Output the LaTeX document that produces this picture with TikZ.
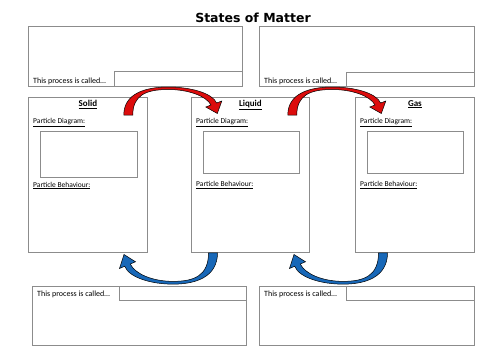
\documentclass[tikz,border=0pt]{standalone}
\usepackage{fontspec}
\setmainfont{Carlito}
\newfontfamily\titlefont{DejaVu Sans}
\usetikzlibrary{positioning}
\definecolor{meltred}{RGB}{220,12,12}
\definecolor{freezeblue}{RGB}{24,104,184}
\definecolor{rulegray}{RGB}{140,140,140}
\tikzset{
  panel/.style={
    draw = rulegray,
    line width = 0.8pt,
    inner sep = 0pt,
    anchor = north west
  },
  field/.style={
    draw = rulegray,
    line width = 0.8pt,
    inner sep = 0pt
  },
  title/.style={
    font = \titlefont\bfseries\fontsize{12.5}{15}\selectfont,
    inner sep = 0pt
  },
  heading/.style={
    font = \bfseries\fontsize{9}{11}\selectfont,
    inner sep = 1pt
  },
  caption/.style={
    font = \fontsize{7.5}{9}\selectfont,
    inner sep = 0pt
  },
  called/.style={
    font = \fontsize{8}{10}\selectfont,
    inner sep = 0pt,
    anchor = base west
  }
}
% curved block arrow, tail centred on the origin
\newcommand{\stateArrow}[1]{%
  \filldraw[fill=#1, draw=black, line width=0.5pt]
    (-4.5,0) .. controls (-4.5,-22) and (18,-28) .. (40,-28)
    .. controls (62,-28) and (84,-22) .. (88.3,-12)
    -- (93.5,-14) -- (89,-1.5) -- (77.5,-8) -- (82.7,-10)
    .. controls (78,-19) and (60,-25.5) .. (40,-25.5)
    .. controls (18,-25.5) and (4.5,-20) .. (4.5,0) -- cycle;}
\begin{document}
\begin{tikzpicture}[x=1pt,y=-1pt]
        \useasboundingbox (0,0) rectangle (500,354);
        \node[title] (title) at (253,18) {States of Matter};
        % top process boxes
        \node[panel, minimum width=214, minimum height=60] (procTL) at (28,26) {};
        \node[field, anchor=south east, minimum width=128, minimum height=15] (ansTL) at (procTL.south east) {};
        \node[called] (callTL) at ([shift={(5,-3)}]procTL.south west) {This process is called…};
        \node[panel, minimum width=215, minimum height=60] (procTR) at (259,26) {};
        \node[field, anchor=south east, minimum width=128, minimum height=14] (ansTR) at (procTR.south east) {};
        \node[called] (callTR) at ([shift={(5,-3)}]procTR.south west) {This process is called…};
        % state boxes
        \node[panel, minimum width=119, minimum height=155] (solid) at (28,97) {};
        \node[heading, below=2pt of solid.north] (solidName) {\underline{Solid}};
        \node[caption, anchor=west] (solidPD) at ([shift={(5,26)}]solid.north west) {\underline{Particle Diagram:}};
        \node[field, anchor=north west, minimum width=97, minimum height=46] (solidDiag) at ([shift={(12,33.5)}]solid.north west) {};
        \node[caption, anchor=west] (solidPB) at ([shift={(5,88.5)}]solid.north west) {\underline{Particle Behaviour:}};
        \node[panel, minimum width=118, minimum height=155] (liquid) at (191,97) {};
        \node[heading, below=2pt of liquid.north] (liquidName) {\underline{Liquid}};
        \node[caption, anchor=west] (liquidPD) at ([shift={(5,26)}]liquid.north west) {\underline{Particle Diagram:}};
        \node[field, anchor=north west, minimum width=96, minimum height=42] (liquidDiag) at ([shift={(12,34)}]liquid.north west) {};
        \node[caption, anchor=west] (liquidPB) at ([shift={(5,88)}]liquid.north west) {\underline{Particle Behaviour:}};
        \node[panel, minimum width=119, minimum height=155] (gas) at (355,97) {};
        \node[heading, below=2pt of gas.north] (gasName) {\underline{Gas}};
        \node[caption, anchor=west] (gasPD) at ([shift={(5,26)}]gas.north west) {\underline{Particle Diagram:}};
        \node[field, anchor=north west, minimum width=96, minimum height=42] (gasDiag) at ([shift={(12,34)}]gas.north west) {};
        \node[caption, anchor=west] (gasPB) at ([shift={(5,88)}]gas.north west) {\underline{Particle Behaviour:}};
        % bottom process boxes
        \node[panel, minimum width=214, minimum height=59] (procBL) at (32,286) {};
        \node[field, anchor=north east, minimum width=127, minimum height=14] (ansBL) at (procBL.north east) {};
        \node[called] (callBL) at ([shift={(5,10.5)}]procBL.north west) {This process is called…};
        \node[panel, minimum width=215, minimum height=59] (procBR) at (259,286) {};
        \node[field, anchor=north east, minimum width=128, minimum height=14] (ansBR) at (procBR.north east) {};
        \node[called] (callBR) at ([shift={(5,10.5)}]procBR.north west) {This process is called…};
        % arrows between the states
        \coordinate (meltTail) at ([shift={(-19.5,18)}]solid.north east);
        \coordinate (boilTail) at ([shift={(-17.5,18)}]liquid.north east);
        \coordinate (freezeTail) at ([shift={(22,0)}]liquid.south west);
        \coordinate (condenseTail) at ([shift={(28,0)}]gas.south west);
        \begin{scope}[shift={(meltTail)}] \stateArrow{meltred} \end{scope}
        \begin{scope}[shift={(boilTail)}] \stateArrow{meltred} \end{scope}
        \begin{scope}[shift={(freezeTail)}, rotate=180, yscale=1.12] \stateArrow{freezeblue} \end{scope}
        \begin{scope}[shift={(condenseTail)}, rotate=180, yscale=1.12] \stateArrow{freezeblue} \end{scope}
    \end{tikzpicture}
\end{document}
